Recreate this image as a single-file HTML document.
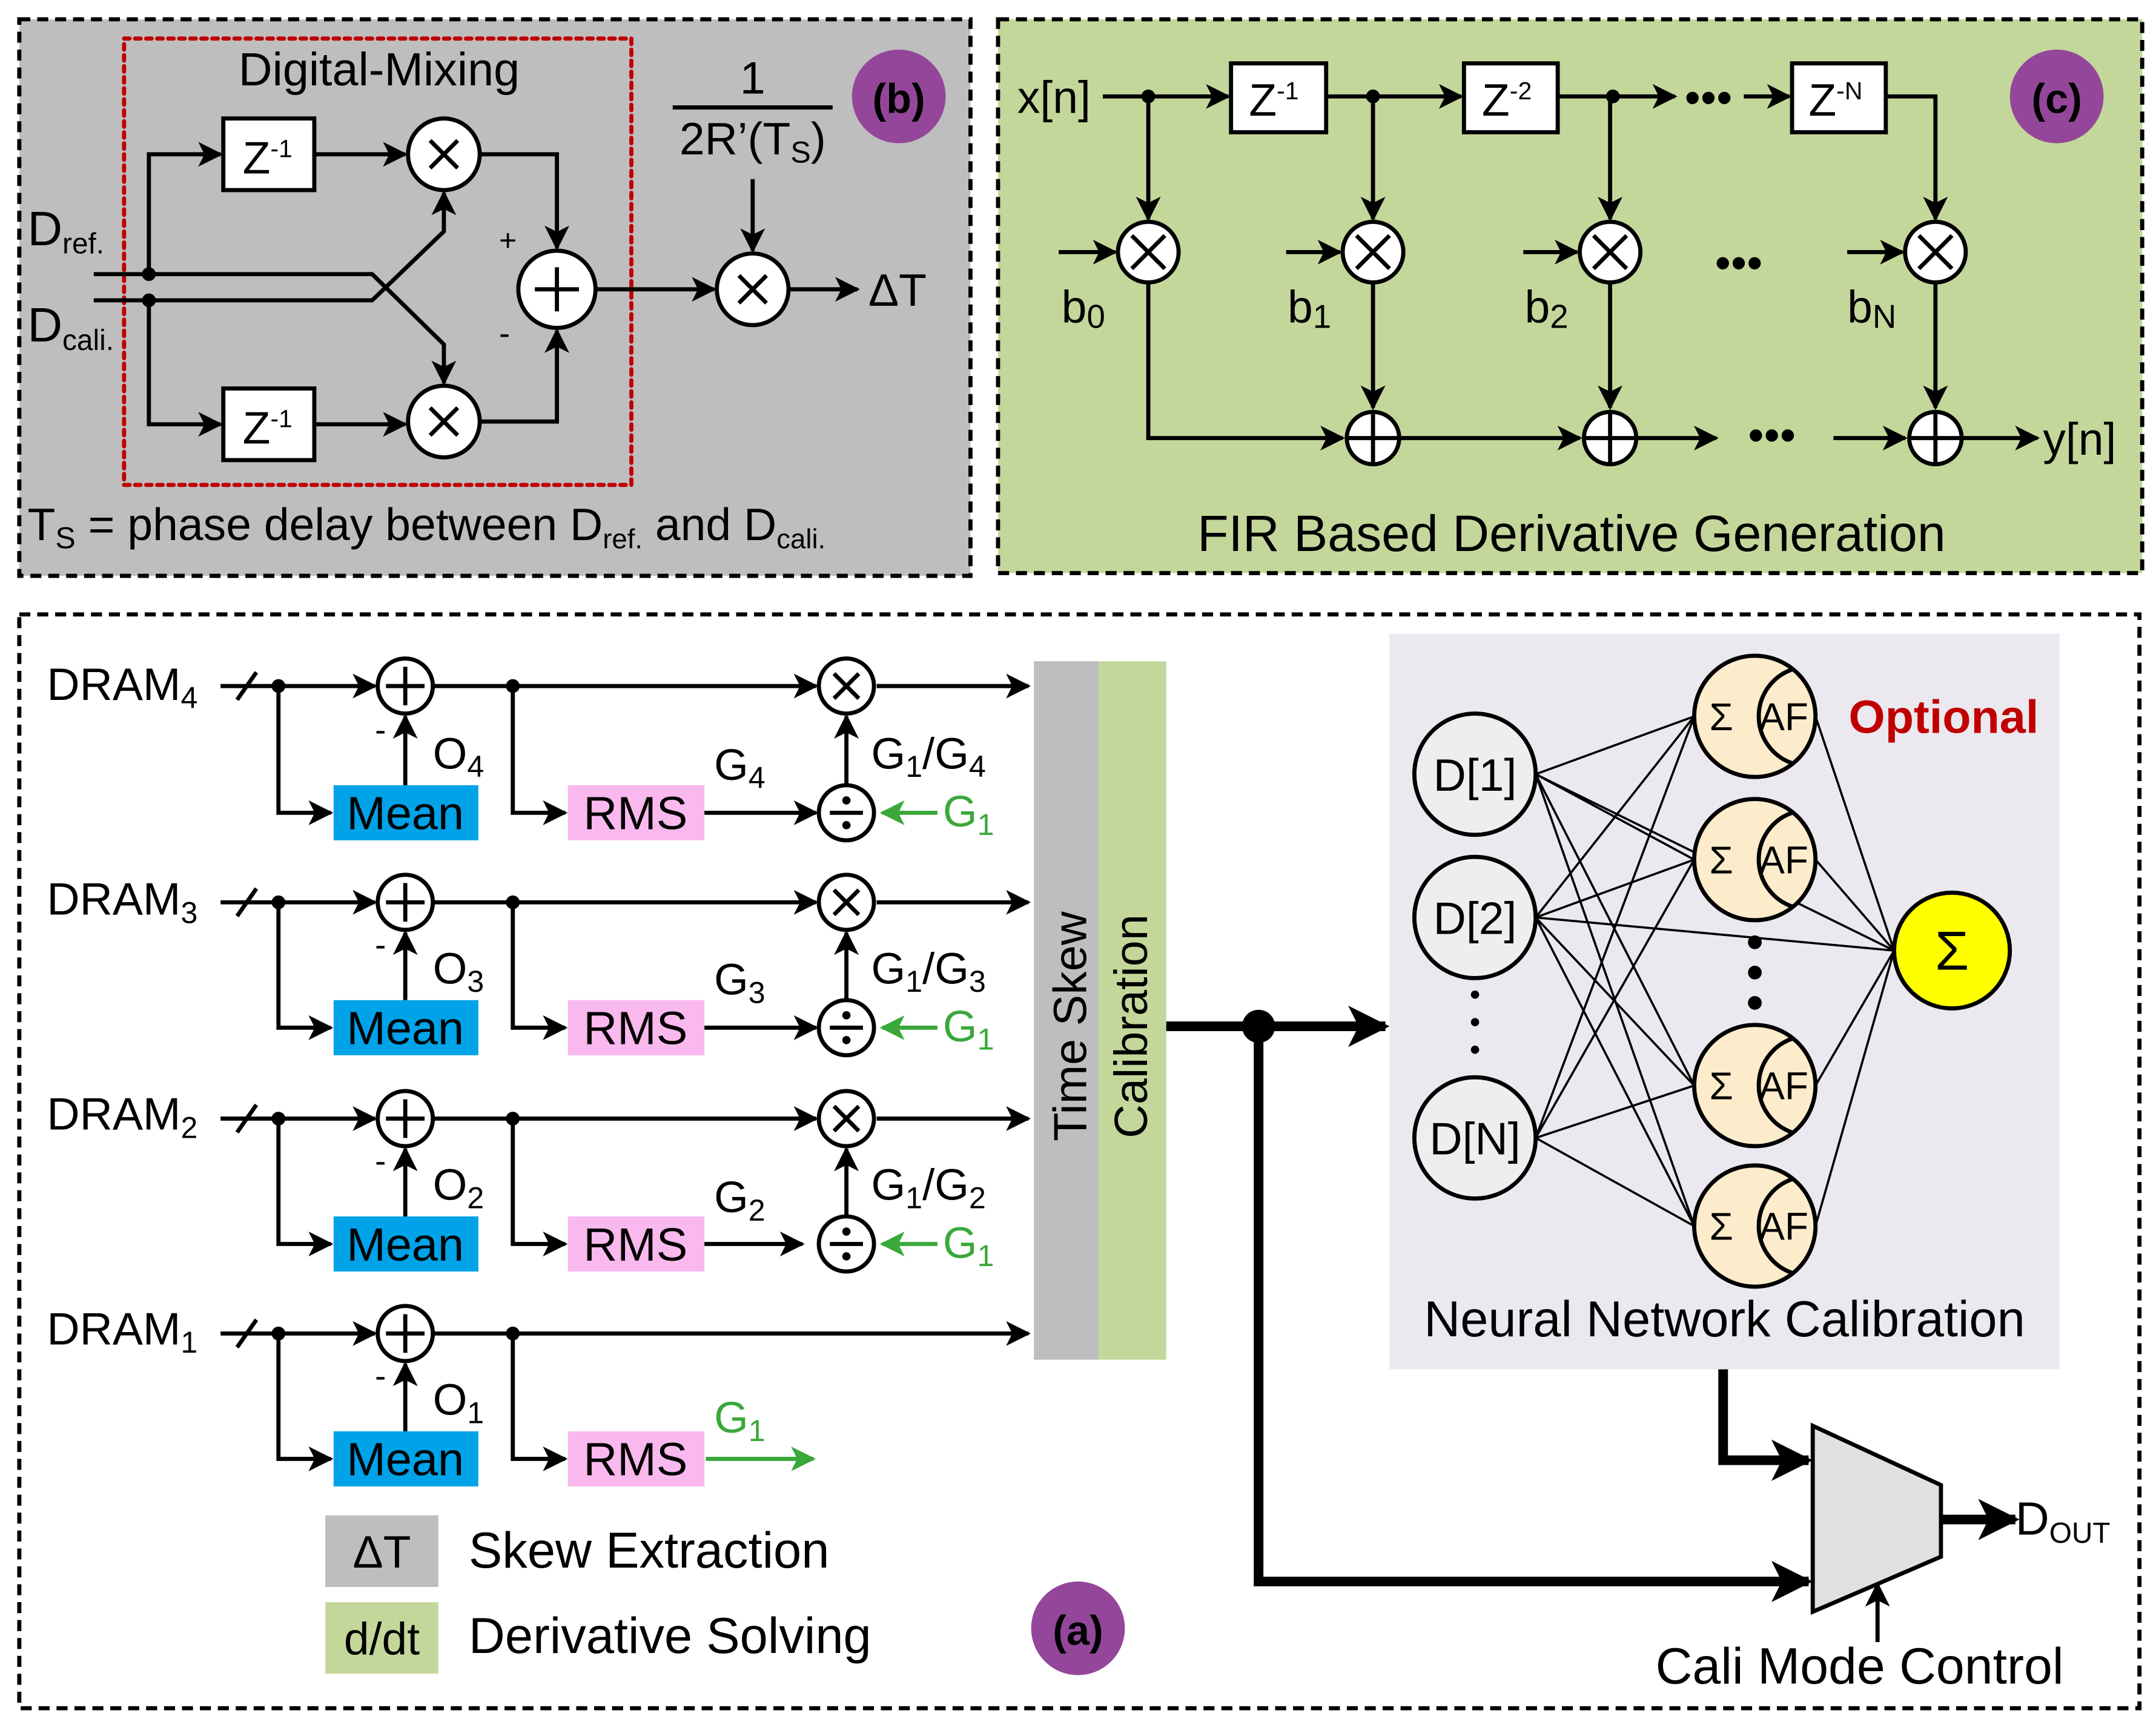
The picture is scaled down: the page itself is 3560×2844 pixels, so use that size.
<!DOCTYPE html>
<html><head><meta charset="utf-8"><style>html,body{margin:0;padding:0;background:#fff}svg{display:block}</style></head><body>
<svg width="3560" height="2844" viewBox="0 0 1564 1250" preserveAspectRatio="none" xmlns="http://www.w3.org/2000/svg" font-family="Liberation Sans, Arial, sans-serif">
<defs>
<marker id="a" viewBox="0 0 10 10" refX="9" refY="5" markerWidth="20" markerHeight="18" markerUnits="userSpaceOnUse" orient="auto"><path d="M0,0 L10,5 L0,10 L2.5,5z" fill="#000"/></marker>
<marker id="ab" viewBox="0 0 10 10" refX="9" refY="5" markerWidth="34" markerHeight="30" markerUnits="userSpaceOnUse" orient="auto"><path d="M0,0 L10,5 L0,10 L2.5,5z" fill="#000"/></marker>
<marker id="ag" viewBox="0 0 10 10" refX="9" refY="5" markerWidth="20" markerHeight="18" markerUnits="userSpaceOnUse" orient="auto"><path d="M0,0 L10,5 L0,10 L2.5,5z" fill="#3aa83a"/></marker>
</defs>
<g stroke="#000" stroke-width="3" fill="none">
<rect x="14" y="14" width="690" height="404" fill="#bebebe" stroke-dasharray="8,5"/>
<rect x="90" y="28" width="368" height="324" stroke="#c00000" stroke-dasharray="4,4" stroke-linecap="round"/>
<rect x="724" y="14" width="830" height="402" fill="#c4d79b" stroke-dasharray="8,5"/>
<rect x="14" y="446" width="1538" height="794" fill="#fff" stroke-dasharray="8,5"/>
</g>
<g font-size="33" fill="#000">
<text x="275" y="62" text-anchor="middle" font-size="34">Digital-Mixing</text>
<text x="20" y="178" font-size="35">D<tspan font-size="21" dy="6">ref.</tspan></text>
<text x="20" y="248" font-size="35">D<tspan font-size="21" dy="6">cali.</tspan></text>
<text x="546" y="68" text-anchor="middle">1</text>
<text x="546" y="112" text-anchor="middle">2R’(T<tspan font-size="22" dy="6">S</tspan><tspan dy="-6">)</tspan></text>
<text x="630" y="222">ΔT</text>
<text x="20" y="392">T<tspan font-size="22" dy="6">S</tspan><tspan dy="-6"> = phase delay between D</tspan><tspan font-size="20" dy="6">ref.</tspan><tspan dy="-6"> and D</tspan><tspan font-size="20" dy="6">cali.</tspan></text>
<text x="362" y="182" font-size="22">+</text>
<text x="362" y="250" font-size="24">-</text>
</g>
<g stroke="#000" stroke-width="3" fill="none">
<rect x="162" y="86" width="66" height="52" fill="#fff"/>
<rect x="162" y="282" width="66" height="52" fill="#fff"/>
<line x1="488" y1="78" x2="604" y2="78"/>
<path d="M68,199 H270 L322,250 V278" marker-end="url(#a)"/>
<path d="M68,218 H270 L322,168 V140" marker-end="url(#a)"/>
<path d="M108,199 V112 H160" marker-end="url(#a)"/>
<path d="M108,218 V308 H160" marker-end="url(#a)"/>
<path d="M228,112 H294" marker-end="url(#a)"/>
<path d="M228,308 H294" marker-end="url(#a)"/>
<path d="M348,112 H404 V180" marker-end="url(#a)"/>
<path d="M348,306 H404 V240" marker-end="url(#a)"/>
<path d="M432,210 H518" marker-end="url(#a)"/>
<path d="M572,210 H622" marker-end="url(#a)"/>
<path d="M546,130 V182" marker-end="url(#a)"/>
<circle cx="322" cy="112" r="26" fill="#fff"/><path d="M312,102 L332,122 M332,102 L312,122"/>
<circle cx="322" cy="306" r="26" fill="#fff"/><path d="M312,296 L332,316 M332,296 L312,316"/>
<circle cx="546" cy="210" r="26" fill="#fff"/><path d="M536,200 L556,220 M556,200 L536,220"/>
<circle cx="404" cy="210" r="28" fill="#fff"/><path d="M388,210 H420 M404,194 V226"/>
</g>
<circle cx="108" cy="199" r="5"/><circle cx="108" cy="218" r="5"/>
<g font-size="33"><text x="176" y="126">Z<tspan font-size="18" dy="-12">-1</tspan></text><text x="176" y="322">Z<tspan font-size="18" dy="-12">-1</tspan></text></g>
<circle cx="652" cy="70" r="34" fill="#94479a"/><text x="652" y="82" font-size="30" font-weight="bold" text-anchor="middle">(b)</text>

<g stroke="#000" stroke-width="3" fill="none">
<path d="M800,70 H891" marker-end="url(#a)"/>
<path d="M962,70 H1060" marker-end="url(#a)"/>
<path d="M1130,70 H1215" marker-end="url(#a)"/>
<path d="M1265,70 H1298" marker-end="url(#a)"/>
<path d="M1368,70 H1404 V159" marker-end="url(#a)"/>
<path d="M833,70 V159" marker-end="url(#a)"/>
<path d="M996,70 V159" marker-end="url(#a)"/>
<path d="M1168,70 V159" marker-end="url(#a)"/>
<rect x="893" y="46" width="69" height="50" fill="#fff"/>
<rect x="1062" y="46" width="68" height="50" fill="#fff"/>
<rect x="1300" y="46" width="68" height="50" fill="#fff"/>
<path d="M768,183 H809" marker-end="url(#a)"/><path d="M933,183 H972" marker-end="url(#a)"/><path d="M1105,183 H1144" marker-end="url(#a)"/><path d="M1340,183 H1380" marker-end="url(#a)"/>
<path d="M833,205 V318 H974" marker-end="url(#a)"/>
<path d="M996,205 V296" marker-end="url(#a)"/><path d="M1168,205 V296" marker-end="url(#a)"/><path d="M1404,205 V296" marker-end="url(#a)"/>
<path d="M1016,318 H1146" marker-end="url(#a)"/><path d="M1188,318 H1245" marker-end="url(#a)"/><path d="M1330,318 H1382" marker-end="url(#a)"/><path d="M1424,318 H1478" marker-end="url(#a)"/>
<g fill="#fff">
<circle cx="833" cy="183" r="22"/><circle cx="996" cy="183" r="22"/><circle cx="1168" cy="183" r="22"/><circle cx="1404" cy="183" r="22"/>
<circle cx="996" cy="318" r="19"/><circle cx="1168" cy="318" r="19"/><circle cx="1404" cy="318" r="19"/></g>
<path d="M821,171 L845,195 M845,171 L821,195 M984,171 L1008,195 M1008,171 L984,195 M1156,171 L1180,195 M1180,171 L1156,195 M1392,171 L1416,195 M1416,171 L1392,195"/>
<path d="M977,318 H1015 M996,299 V337 M1149,318 H1187 M1168,299 V337 M1385,318 H1423 M1404,299 V337"/>
</g>
<circle cx="833" cy="70" r="5"/><circle cx="996" cy="70" r="5"/><circle cx="1170" cy="70" r="5"/>
<g font-size="33">
<text x="738" y="82">x[n]</text>
<text x="906" y="84">Z<tspan font-size="18" dy="-12">-1</tspan></text>
<text x="1075" y="84">Z<tspan font-size="18" dy="-12">-2</tspan></text>
<text x="1312" y="84">Z<tspan font-size="18" dy="-12">-N</tspan></text>
<text x="1222" y="82">•••</text>
<text x="1244" y="202">•••</text>
<text x="1268" y="327">•••</text>
<text x="770" y="234">b<tspan font-size="24" dy="4">0</tspan></text>
<text x="934" y="234">b<tspan font-size="24" dy="4">1</tspan></text>
<text x="1106" y="234">b<tspan font-size="24" dy="4">2</tspan></text>
<text x="1340" y="234">b<tspan font-size="24" dy="4">N</tspan></text>
<text x="1482" y="330">y[n]</text>
<text x="1140" y="400" text-anchor="middle" font-size="37">FIR Based Derivative Generation</text>
</g>
<circle cx="1492" cy="70" r="34" fill="#94479a"/><text x="1492" y="82" font-size="30" font-weight="bold" text-anchor="middle">(c)</text>

<g font-size="33">
<text x="34" y="508">DRAM<tspan font-size="22" dy="6">4</tspan></text>
<text x="34" y="664">DRAM<tspan font-size="22" dy="6">3</tspan></text>
<text x="34" y="820">DRAM<tspan font-size="22" dy="6">2</tspan></text>
<text x="34" y="976">DRAM<tspan font-size="22" dy="6">1</tspan></text>
</g>
<g stroke="#000" stroke-width="3" fill="none">
<path d="M160,498 H272" marker-end="url(#a)"/><path d="M172,508 L186,488"/><path d="M202,498 V590 H240" marker-end="url(#a)"/><path d="M294,570 V520" marker-end="url(#a)"/><path d="M314,498 H592" marker-end="url(#a)"/><path d="M372,498 V590 H410" marker-end="url(#a)"/><path d="M510,590 H592" marker-end="url(#a)"/><path d="M614,570 V520" marker-end="url(#a)"/><path d="M636,498 H746" marker-end="url(#a)"/>
<path d="M160,655 H272" marker-end="url(#a)"/><path d="M172,665 L186,645"/><path d="M202,655 V746 H240" marker-end="url(#a)"/><path d="M294,726 V677" marker-end="url(#a)"/><path d="M314,655 H592" marker-end="url(#a)"/><path d="M372,655 V746 H410" marker-end="url(#a)"/><path d="M510,746 H592" marker-end="url(#a)"/><path d="M614,726 V677" marker-end="url(#a)"/><path d="M636,655 H746" marker-end="url(#a)"/>
<path d="M160,812 H272" marker-end="url(#a)"/><path d="M172,822 L186,802"/><path d="M202,812 V903 H240" marker-end="url(#a)"/><path d="M294,883 V834" marker-end="url(#a)"/><path d="M314,812 H592" marker-end="url(#a)"/><path d="M372,812 V903 H410" marker-end="url(#a)"/><path d="M510,903 H582" marker-end="url(#a)"/><path d="M614,883 V834" marker-end="url(#a)"/><path d="M636,812 H746" marker-end="url(#a)"/>
<path d="M160,968 H272" marker-end="url(#a)"/><path d="M172,978 L186,958"/><path d="M202,968 V1059 H240" marker-end="url(#a)"/><path d="M294,1039 V990" marker-end="url(#a)"/><path d="M314,968 H746" marker-end="url(#a)"/><path d="M372,968 V1059 H410" marker-end="url(#a)"/>
<path d="M512,1059 H590" stroke="#3aa83a" marker-end="url(#ag)"/>
<g stroke="#3aa83a"><path d="M680,590 H640" marker-end="url(#ag)"/><path d="M680,746 H640" marker-end="url(#ag)"/><path d="M680,903 H640" marker-end="url(#ag)"/></g>
<g fill="#fff">
<circle cx="294" cy="498" r="20"/><circle cx="294" cy="655" r="20"/><circle cx="294" cy="812" r="20"/><circle cx="294" cy="968" r="20"/>
<circle cx="614" cy="498" r="20"/><circle cx="614" cy="655" r="20"/><circle cx="614" cy="812" r="20"/>
<circle cx="614" cy="590" r="20"/><circle cx="614" cy="746" r="20"/><circle cx="614" cy="903" r="20"/></g>
<path d="M280,498 H308 M294,484 V512 M280,655 H308 M294,641 V669 M280,812 H308 M294,798 V826 M280,968 H308 M294,954 V982"/>
<path d="M605,489 L623,507 M623,489 L605,507 M605,646 L623,664 M623,646 L605,664 M605,803 L623,821 M623,803 L605,821"/>
<path d="M602,590 H626 M602,746 H626 M602,903 H626"/>
</g>
<g fill="#000"><circle cx="614" cy="581" r="3"/><circle cx="614" cy="599" r="3"/><circle cx="614" cy="737" r="3"/><circle cx="614" cy="755" r="3"/><circle cx="614" cy="894" r="3"/><circle cx="614" cy="912" r="3"/>
<circle cx="202" cy="498" r="5"/><circle cx="372" cy="498" r="5"/><circle cx="202" cy="655" r="5"/><circle cx="372" cy="655" r="5"/><circle cx="202" cy="812" r="5"/><circle cx="372" cy="812" r="5"/><circle cx="202" cy="968" r="5"/><circle cx="372" cy="968" r="5"/></g>
<g font-size="34">
<rect x="242" y="570" width="105" height="40" fill="#00a2e8"/><text x="294" y="602" text-anchor="middle">Mean</text>
<rect x="242" y="726" width="105" height="40" fill="#00a2e8"/><text x="294" y="758" text-anchor="middle">Mean</text>
<rect x="242" y="883" width="105" height="40" fill="#00a2e8"/><text x="294" y="915" text-anchor="middle">Mean</text>
<rect x="242" y="1039" width="105" height="40" fill="#00a2e8"/><text x="294" y="1071" text-anchor="middle">Mean</text>
<rect x="412" y="570" width="99" height="40" fill="#f9b8ee"/><text x="461" y="602" text-anchor="middle">RMS</text>
<rect x="412" y="726" width="99" height="40" fill="#f9b8ee"/><text x="461" y="758" text-anchor="middle">RMS</text>
<rect x="412" y="883" width="99" height="40" fill="#f9b8ee"/><text x="461" y="915" text-anchor="middle">RMS</text>
<rect x="412" y="1039" width="99" height="40" fill="#f9b8ee"/><text x="461" y="1071" text-anchor="middle">RMS</text>
</g>
<g font-size="32">
<text x="272" y="538" font-size="24">-</text><text x="272" y="694" font-size="24">-</text><text x="272" y="851" font-size="24">-</text><text x="272" y="1007" font-size="24">-</text>
<text x="314" y="558">O<tspan font-size="22" dy="6">4</tspan></text>
<text x="314" y="714">O<tspan font-size="22" dy="6">3</tspan></text>
<text x="314" y="871">O<tspan font-size="22" dy="6">2</tspan></text>
<text x="314" y="1027">O<tspan font-size="22" dy="6">1</tspan></text>
<text x="518" y="566">G<tspan font-size="22" dy="6">4</tspan></text>
<text x="518" y="722">G<tspan font-size="22" dy="6">3</tspan></text>
<text x="518" y="880">G<tspan font-size="22" dy="6">2</tspan></text>
<text x="518" y="1040" fill="#3aa83a">G<tspan font-size="22" dy="6">1</tspan></text>
<text x="632" y="558">G<tspan font-size="22" dy="6">1</tspan><tspan dy="-6">/G</tspan><tspan font-size="22" dy="6">4</tspan></text>
<text x="632" y="714">G<tspan font-size="22" dy="6">1</tspan><tspan dy="-6">/G</tspan><tspan font-size="22" dy="6">3</tspan></text>
<text x="632" y="871">G<tspan font-size="22" dy="6">1</tspan><tspan dy="-6">/G</tspan><tspan font-size="22" dy="6">2</tspan></text>
<g fill="#3aa83a"><text x="684" y="600">G<tspan font-size="22" dy="6">1</tspan></text><text x="684" y="756">G<tspan font-size="22" dy="6">1</tspan></text><text x="684" y="913">G<tspan font-size="22" dy="6">1</tspan></text></g>
</g>
<rect x="750" y="480" width="47" height="507" fill="#bebebe"/>
<rect x="797" y="480" width="49" height="507" fill="#c4d79b"/>
<text transform="translate(788,745) rotate(-90)" font-size="34" text-anchor="middle">Time Skew</text>
<text transform="translate(832,745) rotate(-90)" font-size="34" text-anchor="middle">Calibration</text>
<g stroke="#000" stroke-width="7" fill="none">
<path d="M846,745 H1005" marker-end="url(#ab)" />
<path d="M913,745 V1148 H1312" marker-end="url(#ab)"/>
<path d="M1250,994 V1060 H1312" marker-end="url(#ab)"/>
<path d="M1408,1103 H1462" marker-end="url(#ab)"/>
</g>
<circle cx="913" cy="745" r="12"/>
<rect x="1008" y="460" width="486" height="534" fill="#ebe9ef"/>
<g stroke="#000" stroke-width="1.6">
<path d="M1114,562 L1229,520 M1114,562 L1229,624 M1114,562 L1229,788 M1114,562 L1229,890 M1114,666 L1229,520 M1114,666 L1229,624 M1114,666 L1229,788 M1114,666 L1229,890 M1114,826 L1229,520 M1114,826 L1229,624 M1114,826 L1229,788 M1114,826 L1229,890 M1114,562 L1374,690 M1114,666 L1374,690 M1317,520 L1374,690 M1317,624 L1374,690 M1317,788 L1374,690 M1317,890 L1374,690"/>
</g>
<g stroke="#000" stroke-width="3">
<circle cx="1070" cy="562" r="44" fill="#eeeeee"/><circle cx="1070" cy="666" r="44" fill="#eeeeee"/><circle cx="1070" cy="826" r="44" fill="#eeeeee"/>
<g fill="#fdeccb"><circle cx="1273" cy="520" r="44"/><circle cx="1273" cy="624" r="44"/><circle cx="1273" cy="788" r="44"/><circle cx="1273" cy="890" r="44"/></g>
<g fill="none"><path d="M1300,486 A36,36 0 0 0 1300,554"/><path d="M1300,590 A36,36 0 0 0 1300,658"/><path d="M1300,754 A36,36 0 0 0 1300,822"/><path d="M1300,856 A36,36 0 0 0 1300,924"/></g>
<circle cx="1416" cy="690" r="42" fill="#ffff00"/>
</g>
<g fill="#000"><circle cx="1070" cy="722" r="3"/><circle cx="1070" cy="742" r="3"/><circle cx="1070" cy="762" r="3"/>
<circle cx="1273" cy="684" r="5"/><circle cx="1273" cy="706" r="5"/><circle cx="1273" cy="728" r="5"/></g>
<g font-size="33" text-anchor="middle">
<text x="1070" y="574">D[1]</text><text x="1070" y="678">D[2]</text><text x="1070" y="838">D[N]</text>
<text x="1416" y="704" font-size="40">Σ</text>
</g>
<g font-size="28">
<text x="1240" y="530">Σ</text><text x="1276" y="530">AF</text>
<text x="1240" y="634">Σ</text><text x="1276" y="634">AF</text>
<text x="1240" y="798">Σ</text><text x="1276" y="798">AF</text>
<text x="1240" y="900">Σ</text><text x="1276" y="900">AF</text>
</g>
<text x="1410" y="532" font-size="34" font-weight="bold" fill="#c00000" text-anchor="middle">Optional</text>
<text x="1251" y="970" font-size="36.5" text-anchor="middle">Neural Network Calibration</text>
<path d="M1315,1035 L1408,1078 L1408,1130 L1315,1170 Z" fill="#e0e0e0" stroke="#000" stroke-width="3"/>
<path d="M1362,1192 V1150" stroke="#000" stroke-width="3" marker-end="url(#a)"/>
<text x="1462" y="1114" font-size="34">D<tspan font-size="21" dy="6">OUT</tspan></text>
<text x="1349" y="1222" font-size="37" text-anchor="middle">Cali Mode Control</text>
<rect x="236" y="1100" width="82" height="52" fill="#bebebe"/><text x="277" y="1138" font-size="33" text-anchor="middle">ΔT</text>
<rect x="236" y="1163" width="82" height="52" fill="#c4d79b"/><text x="277" y="1201" font-size="33" text-anchor="middle">d/dt</text>
<text x="340" y="1138" font-size="36.5">Skew Extraction</text>
<text x="340" y="1200" font-size="36.5">Derivative Solving</text>
<circle cx="782" cy="1182" r="34" fill="#94479a"/><text x="782" y="1194" font-size="30" font-weight="bold" text-anchor="middle">(a)</text>
</svg>
</body></html>
